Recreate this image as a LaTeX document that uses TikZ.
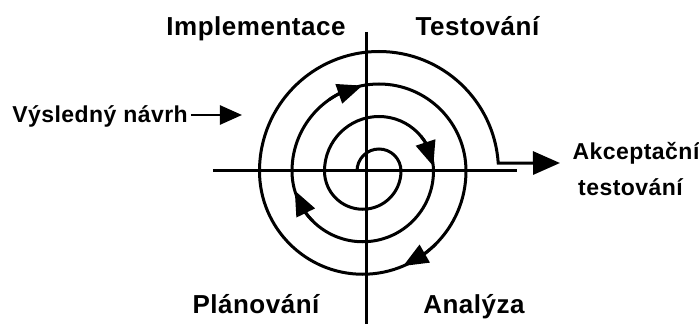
\documentclass[tikz,border=0pt]{standalone}
\usepackage{fontspec}
\setmainfont{Liberation Sans}
\usetikzlibrary{arrows.meta,bending}
\begin{document}
\begin{tikzpicture}[x=1pt,y=1pt,
  spiral/.style={line width=3pt},
  axisline/.style={line width=3pt},
  bigl/.style={inner sep=0pt,anchor=base,font=\fontsize{26}{28}\selectfont\bfseries\addfontfeatures{LetterSpace=2}},
  smalll/.style={inner sep=0pt,anchor=base,font=\fontsize{23}{25}\selectfont\bfseries\addfontfeatures{LetterSpace=2}},
  tri/.style={-{Triangle[length=25pt,width=20pt,flex]}},
]
\useasboundingbox (-367,-153) rectangle (332,171);
% axes
\coordinate (hL) at (-154,0);
\coordinate (hR) at (150,0);
\coordinate (vT) at (0,139);
\coordinate (vB) at (0,-153);
\draw[axisline] (hL) -- (hR);
\draw[axisline] (vT) -- (vB);
% spiral
\coordinate (spStart) at (-10,0);
\coordinate (spEnd) at (193,8);
\draw[spiral,-{Triangle[length=27pt,width=23pt]}] (spStart)
  arc[start angle=180,end angle=0,radius=22pt]
  arc[start angle=0,end angle=-180,radius=38.25pt]
  arc[start angle=180,end angle=0,radius=54.5pt]
  arc[start angle=0,end angle=-180,radius=70.75pt]
  arc[start angle=180,end angle=0,radius=87pt]
  arc[start angle=0,end angle=-180,radius=103.25pt]
  arc[start angle=180,end angle=3.8,radius=119.5pt] -- (spEnd);
% arrowheads on the spiral
\draw[spiral,tri] ([shift={(12,0)}]40:54.5pt) arc[start angle=40,end angle=5,radius=54.5pt];
\draw[spiral,tri] ([shift={(12,0)}]125:87pt) arc[start angle=125,end angle=101,radius=87pt];
\draw[spiral,tri] ([shift={(-4.25,0)}]-135:70.75pt) arc[start angle=-135,end angle=-164,radius=70.75pt];
\draw[spiral,tri] ([shift={(-4.25,0)}]-45:103.25pt) arc[start angle=-45,end angle=-67,radius=103.25pt];
% labels
\node[bigl] (impl) at (-111,135) {Implementace};
\node[bigl] (test) at (110.5,135) {Testování};
\node[bigl] (plan) at (-111,-142) {Plánování};
\node[bigl] (anal) at (107,-142) {Analýza};
\node[smalll] (akc) at (269,11) {Akceptační};
\node[smalll] (akc2) at (263.5,-24) {testování};
\node[smalll,anchor=base east] (vn) at (-179,48) {Výsledný návrh};
\coordinate (vnTip) at (-125,56);
\draw[line width=2.5pt,-{Triangle[length=22pt,width=19pt]}] ([xshift=3pt]vn.base east |- vnTip) -- (vnTip);
\end{tikzpicture}
\end{document}
